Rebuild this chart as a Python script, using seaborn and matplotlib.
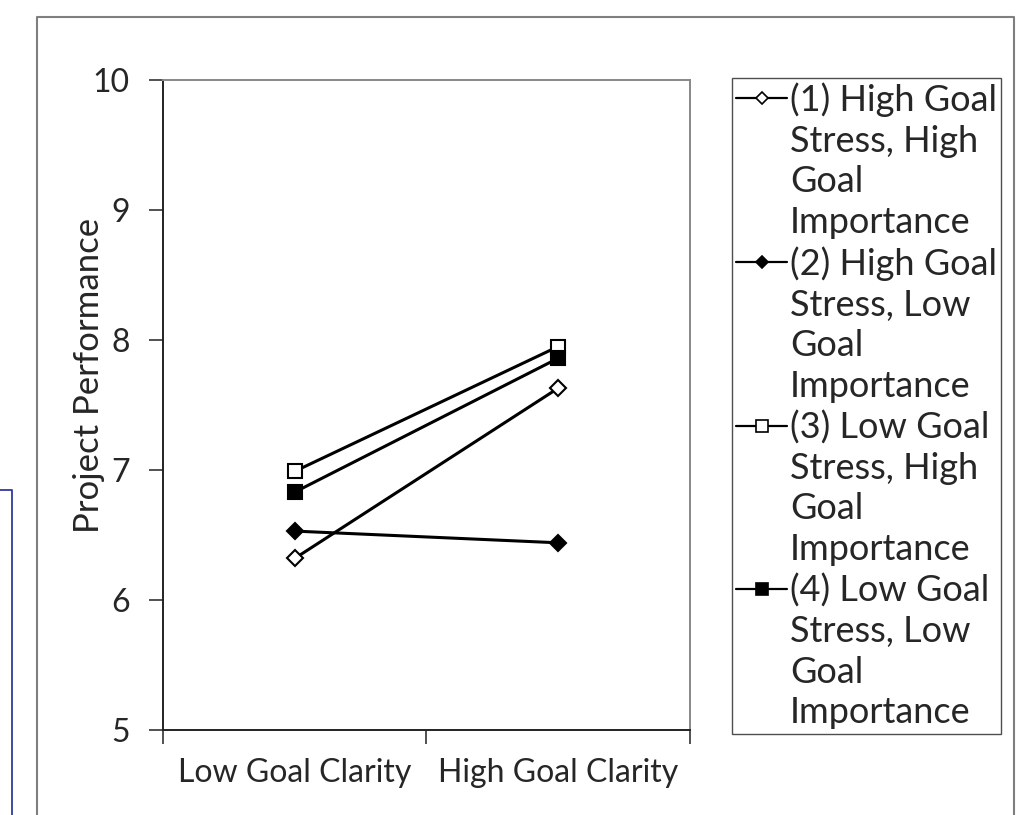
import pandas as pd
import seaborn as sns
import matplotlib.pyplot as plt
from matplotlib.lines import Line2D

categories = ['Low Goal Clarity', 'High Goal Clarity']
series_names = [
    ['(1) High Goal', 'Stress, High', 'Goal', 'Importance'],
    ['(2) High Goal', 'Stress, Low', 'Goal', 'Importance'],
    ['(3) Low Goal', 'Stress, High', 'Goal', 'Importance'],
    ['(4) Low Goal', 'Stress, Low', 'Goal', 'Importance'],
]
s1 = [6.32, 7.63]
s2 = [6.53, 6.44]
s3 = [6.99, 7.95]
s4 = [6.83, 7.86]
markers = ['D', 'D', 's', 's']
faces = ['white', 'black', 'white', 'black']
sizes = [8, 8, 10, 10]

sns.set_style('white')
plt.rcParams['font.family'] = ['Lato', 'DejaVu Sans']

fig = plt.figure(figsize=(10.3, 8.15), dpi=100)
ax = fig.add_axes([163 / 1030, 1 - 730 / 815, (690 - 163) / 1030, (730 - 80) / 815])

xpos = [0.5, 1.5]
handles, labels = [], []
for name, vals, m, fc, ms in zip(series_names, [s1, s2, s3, s4], markers, faces, sizes):
    df = pd.DataFrame({'x': xpos, 'y': vals})
    sns.lineplot(data=df, x='x', y='y', ax=ax, color='black', linewidth=2.2,
                 marker=m, markersize=ms, markerfacecolor=fc,
                 markeredgecolor='black', markeredgewidth=1.5)
    # handle only on the first text line of each entry
    handles.append(Line2D([], [], color='black', linewidth=1.6, marker=m,
                          markersize=ms * 0.8, markerfacecolor=fc,
                          markeredgecolor='black', markeredgewidth=1.2))
    labels.append(name[0])
    for line in name[1:]:
        handles.append(Line2D([], [], linestyle='none'))
        labels.append(line)

ax.set_xlim(0, 2)
ax.set_ylim(5, 10)
ax.set_yticks([5, 6, 7, 8, 9, 10])
ax.set_xticks([0, 1, 2])
ax.set_xticklabels([])
ax.set_xticks(xpos, minor=True)
ax.set_xticklabels(categories, minor=True, fontsize=23)
ax.tick_params(axis='x', which='major', direction='out', length=10, width=1.2, color='#333333', bottom=True)
ax.tick_params(axis='x', which='minor', length=0, pad=20, bottom=True)
ax.tick_params(axis='y', direction='out', length=10, width=1.2, color='#333333', labelsize=23, pad=14, left=True)
ax.set_xlabel('')
ax.set_ylabel('Project Performance', fontsize=25)
ax.yaxis.set_label_coords(-0.11, 0.545)

for side in ['left', 'bottom']:
    ax.spines[side].set_color('#222222')
    ax.spines[side].set_linewidth(1.4)
for side in ['top', 'right']:
    ax.spines[side].set_color('#888888')
    ax.spines[side].set_linewidth(1.4)

leg = fig.legend(handles=handles, labels=labels, loc='upper left',
                 bbox_to_anchor=(732 / 1030, 1 - 78 / 815), fontsize=26,
                 frameon=True, fancybox=False, edgecolor='#222222',
                 handlelength=1.4, handletextpad=0.08, borderpad=0.12,
                 labelspacing=0.21, borderaxespad=0)
leg.get_frame().set_linewidth(1.0)

# outer chart frame (gray) and a neighbouring blue box edge
fig.add_artist(Line2D([37 / 1030, 37 / 1030, 1014 / 1030, 1014 / 1030],
                      [0, 1 - 17 / 815, 1 - 17 / 815, 0],
                      color='#7f7f7f', linewidth=1.5, transform=fig.transFigure))
fig.add_artist(Line2D([0, 12 / 1030, 12 / 1030],
                      [1 - 490 / 815, 1 - 490 / 815, 0],
                      color='#2e3a9a', linewidth=1.3, transform=fig.transFigure))

fig.savefig('out.png', dpi=100)
